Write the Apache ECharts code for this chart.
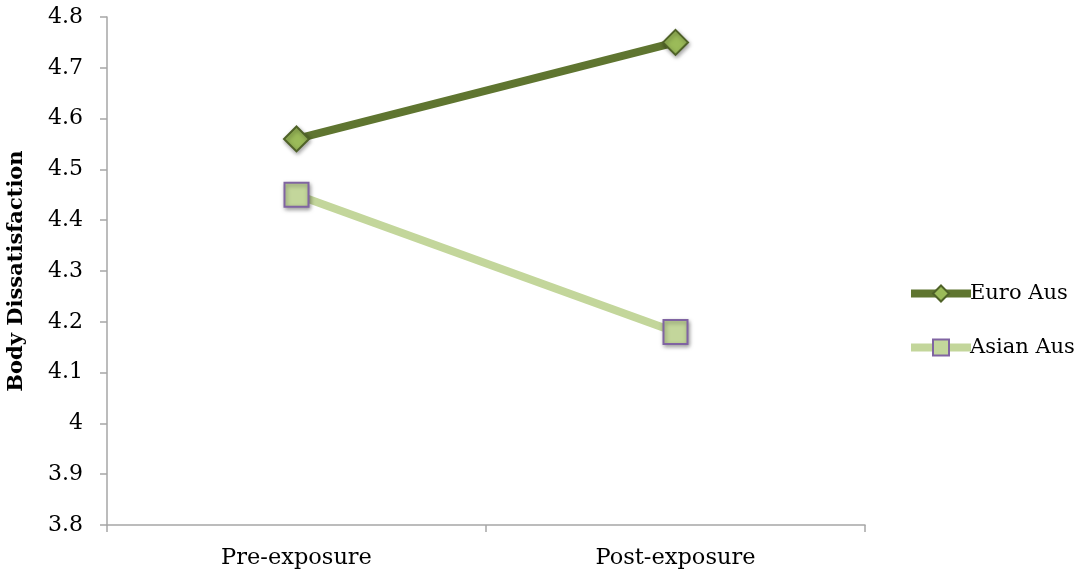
<!DOCTYPE html>
<html><head><meta charset="utf-8">
<script src="https://cdn.jsdelivr.net/npm/echarts@6/dist/echarts.min.js"></script>
<style>html,body{margin:0;padding:0;background:#fff}#c{width:1084px;height:577px}</style>
</head><body><div id="c"></div>
<script>
const categories = ['Pre-exposure', 'Post-exposure'];
const euroAus = [4.56, 4.75];
const asianAus = [4.45, 4.18];
const yTicks = [3.8, 3.9, 4, 4.1, 4.2, 4.3, 4.4, 4.5, 4.6, 4.7, 4.8];

const font = '"DejaVu Serif", serif';
const chart = echarts.init(document.getElementById('c'));
chart.setOption({
  animation: false,
  textStyle: {fontFamily: font},
  grid: {left: 107, right: 219, top: 17, bottom: 52, containLabel: false, outerBoundsMode: 'none'},
  xAxis: {
    type: 'category', data: categories, boundaryGap: true,
    axisLine: {lineStyle: {color: '#a6a6a6', width: 1.5}},
    axisTick: {show: true, length: 7, lineStyle: {color: '#a6a6a6', width: 1.5}},
    axisLabel: {color: '#000', fontSize: 22.5, margin: 22, fontFamily: font}
  },
  yAxis: {
    type: 'value', min: 3.8, max: 4.8, interval: 0.1,
    name: 'Body Dissatisfaction', nameLocation: 'middle', nameGap: 80, nameRotate: 90,
    nameTextStyle: {fontSize: 21, fontWeight: 'bold', color: '#000', fontFamily: font},
    axisLine: {show: true, lineStyle: {color: '#a6a6a6', width: 1.5}},
    axisTick: {show: true, length: 7, inside: false, lineStyle: {color: '#a6a6a6', width: 1.5}},
    splitLine: {show: false},
    axisLabel: {color: '#000', fontSize: 22, margin: 24, fontFamily: font,
      formatter: v => { const t = yTicks.find(x => Math.abs(x - v) < 1e-6); return t === undefined ? '' : String(t); }}
  },
  legend: {
    orient: 'vertical', left: 907, top: 283, itemGap: 33, padding: 0,
    itemWidth: 60, itemHeight: 20,
    textStyle: {fontSize: 21, color: '#000', fontFamily: font, padding: [0,0,0,-6]},
    data: [
      {name: 'Euro Aus', lineStyle: {width: 8}, itemStyle: {borderWidth: 2}},
      {name: 'Asian Aus', lineStyle: {width: 8}, itemStyle: {borderWidth: 2}}
    ]
  },
  series: [
    {
      name: 'Euro Aus', type: 'line', data: euroAus,
      symbol: 'diamond', symbolSize: 25,
      lineStyle: {color: '#5f7530', width: 8},
      itemStyle: {color: '#9bbb59', borderColor: '#4f6228', borderWidth: 2,
        shadowColor: 'rgba(0,0,0,0.35)', shadowBlur: 4, shadowOffsetX: 1, shadowOffsetY: 2}
    },
    {
      name: 'Asian Aus', type: 'line', data: asianAus,
      symbol: 'rect', symbolSize: 24,
      lineStyle: {color: '#c3d69b', width: 8},
      itemStyle: {color: '#c3d69b', borderColor: '#8064a2', borderWidth: 2,
        shadowColor: 'rgba(0,0,0,0.35)', shadowBlur: 4, shadowOffsetX: 1, shadowOffsetY: 2}
    }
  ]
});
</script></body></html>
